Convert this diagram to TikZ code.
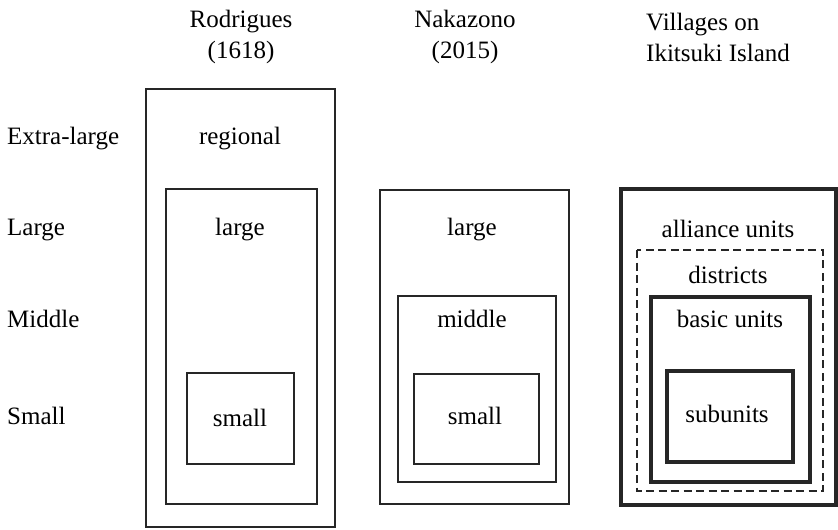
\documentclass[tikz,border=0pt]{standalone}
\usepackage{fontspec}
\setmainfont{Liberation Serif}
\begin{document}
\begin{tikzpicture}[x=1pt,y=-1pt,
  thinbox/.style={draw=black!85,line width=1.6pt},
  thickbox/.style={draw=black!85,line width=3.8pt},
  dashbox/.style={draw=black!85,line width=1.3pt,dash pattern=on 8pt off 4.5pt},
  lbl/.style={inner sep=0pt,font=\fontsize{25}{30}\selectfont,text height=0.68em,text depth=0.22em,yshift=-5pt},
  hdr/.style={inner sep=0pt,font=\fontsize{25}{31}\selectfont,align=center}]
\useasboundingbox (0,0) rectangle (838,530);
% headers
\node[hdr] (hR) at (241,37) {Rodrigues\\(1618)};
\node[hdr] (hN) at (465,37) {Nakazono\\(2015)};
\node[hdr,align=left,anchor=west] (hV) at (646,37) {Villages on\\Ikitsuki Island};
% row labels
\node[lbl,anchor=west] (rXL) at (7,137) {Extra-large};
\node[lbl,anchor=west] (rL) at (7,228) {Large};
\node[lbl,anchor=west] (rM) at (7,320) {Middle};
\node[lbl,anchor=west] (rS) at (7,417) {Small};
% Rodrigues
\draw[thinbox] (146,89) rectangle (335,527);
\draw[thinbox] (166,189) rectangle (317,504);
\draw[thinbox] (187,373) rectangle (294,464);
\node[lbl] (tR1) at (240,137) {regional};
\node[lbl] (tR2) at (240,228) {large};
\node[lbl] (tR3) at (240,419) {small};
% Nakazono
\draw[thinbox] (380,190) rectangle (569,504);
\draw[thinbox] (398,296) rectangle (556,482);
\draw[thinbox] (414,374) rectangle (539,464);
\node[lbl] (tN1) at (472,228) {large};
\node[lbl] (tN2) at (472,320) {middle};
\node[lbl] (tN3) at (475,417) {small};
% Villages
\draw[thickbox] (621,189) rectangle (836,505);
\draw[dashbox] (637,250) rectangle (823,491);
\draw[thickbox] (651,297) rectangle (810,482);
\draw[thickbox] (667,371) rectangle (793,462);
\node[lbl] (tV1) at (728,230) {alliance units};
\node[lbl] (tV2) at (728,276) {districts};
\node[lbl] (tV3) at (730,320) {basic units};
\node[lbl] (tV4) at (727,415) {subunits};
\end{tikzpicture}
\end{document}
